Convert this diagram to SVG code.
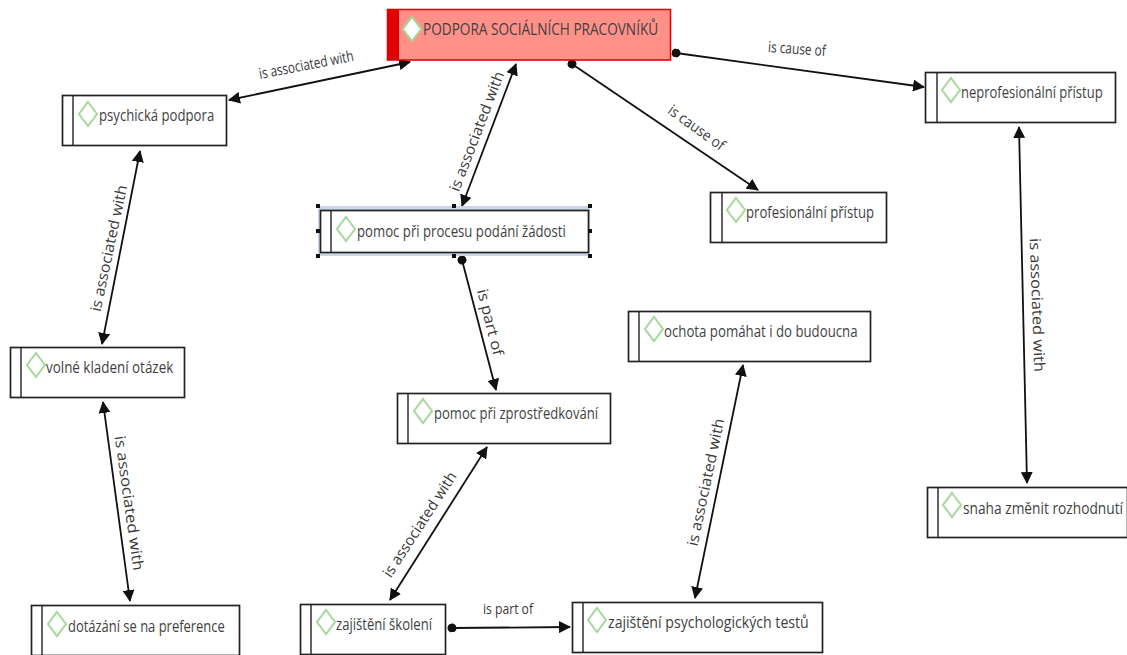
<svg xmlns="http://www.w3.org/2000/svg" width="1127" height="655" viewBox="0 0 1127 655">
<style>
.box{fill:#fff;stroke:#222;stroke-width:1.7}
.bar{stroke:#222;stroke-width:1.4}
.dia{fill:#fff;stroke:#a5d89a;stroke-width:2}
.t{font-family:"Open Sans","Liberation Sans",sans-serif;font-size:17px;fill:#3f3f3f;dominant-baseline:central}
.l{font-family:"Open Sans","Liberation Sans",sans-serif;font-size:15px;fill:#3a3a3a;text-anchor:middle;dominant-baseline:central}
.c{fill:none;stroke:#111;stroke-width:1.8}
.h{fill:#111}
</style>
<defs>
<marker id="a" viewBox="0 0 12 12" refX="11" refY="6" markerWidth="12" markerHeight="12" markerUnits="userSpaceOnUse" orient="auto-start-reverse"><path class="h" d="M0 0L12 6L0 12z"/></marker>
<marker id="d" viewBox="0 0 10 10" refX="5" refY="5" markerWidth="9" markerHeight="9" markerUnits="userSpaceOnUse" orient="auto"><circle class="h" cx="5" cy="5" r="5"/></marker>
<path id="dm" d="M0 -12L9 0L0 12L-9 0z"/>
</defs>
<g id="connectors">
<line class="c" x1="229" y1="100" x2="410" y2="62" marker-start="url(#a)" marker-end="url(#a)"/>
<line class="c" x1="516" y1="64" x2="462" y2="206" marker-start="url(#a)" marker-end="url(#a)"/>
<line class="c" x1="572" y1="64" x2="758" y2="190" marker-start="url(#d)" marker-end="url(#a)"/>
<line class="c" x1="676" y1="53" x2="924" y2="87" marker-start="url(#d)" marker-end="url(#a)"/>
<line class="c" x1="140" y1="151" x2="102" y2="344" marker-start="url(#a)" marker-end="url(#a)"/>
<line class="c" x1="103" y1="402" x2="130" y2="601" marker-start="url(#a)" marker-end="url(#a)"/>
<line class="c" x1="462" y1="260" x2="496" y2="390" marker-start="url(#d)" marker-end="url(#a)"/>
<line class="c" x1="487" y1="447" x2="390" y2="600" marker-start="url(#a)" marker-end="url(#a)"/>
<line class="c" x1="452" y1="628" x2="570" y2="627" marker-start="url(#d)" marker-end="url(#a)"/>
<line class="c" x1="743" y1="365" x2="695" y2="598" marker-start="url(#a)" marker-end="url(#a)"/>
<line class="c" x1="1019" y1="127" x2="1027" y2="483" marker-start="url(#a)" marker-end="url(#a)"/>
<text class="l" transform="translate(306 64) rotate(-11)" textLength="96" lengthAdjust="spacingAndGlyphs">is associated with</text>
<text class="l" transform="translate(476 131) rotate(-69)" textLength="127" lengthAdjust="spacingAndGlyphs">is associated with</text>
<text class="l" transform="translate(697 127) rotate(36)" textLength="66" lengthAdjust="spacingAndGlyphs">is cause of</text>
<text class="l" transform="translate(797 48) rotate(4)" textLength="58" lengthAdjust="spacingAndGlyphs">is cause of</text>
<text class="l" transform="translate(108 248) rotate(-78)" textLength="129" lengthAdjust="spacingAndGlyphs">is associated with</text>
<text class="l" transform="translate(130 503) rotate(82)" textLength="136" lengthAdjust="spacingAndGlyphs">is associated with</text>
<text class="l" transform="translate(491 322) rotate(76)" textLength="68" lengthAdjust="spacingAndGlyphs">is part of</text>
<text class="l" transform="translate(419 524) rotate(-57)" textLength="122" lengthAdjust="spacingAndGlyphs">is associated with</text>
<text class="l" transform="translate(508 608)" textLength="50" lengthAdjust="spacingAndGlyphs">is part of</text>
<text class="l" transform="translate(705 482) rotate(-78)" textLength="130" lengthAdjust="spacingAndGlyphs">is associated with</text>
<text class="l" transform="translate(1038 305) rotate(88)" textLength="134" lengthAdjust="spacingAndGlyphs">is associated with</text>
</g>
<g id="n-main">
<rect x="387.500" y="9.500" width="283" height="50.500" fill="#ff9189" stroke="#e3000f" stroke-width="1.600"/>
<rect x="387" y="9" width="12" height="51" fill="#e00000"/>
<use href="#dm" class="dia" x="412" y="29"/>
<text class="t" transform="translate(423 29) scale(.8 1)" textLength="294" lengthAdjust="spacingAndGlyphs">PODPORA SOCIÁLNÍCH PRACOVNÍKŮ</text>
</g>
<g id="n-psychicka">
<rect class="box" x="62.500" y="95.500" width="164" height="50"/><line class="bar" x1="73" y1="95" x2="73" y2="145"/>
<use href="#dm" class="dia" x="88" y="114"/>
<text class="t" transform="translate(99 115) scale(.8 1)" textLength="144" lengthAdjust="spacingAndGlyphs">psychická podpora</text>
</g>
<g id="n-volne">
<rect class="box" x="10.500" y="347.500" width="174" height="50"/><line class="bar" x1="21" y1="347" x2="21" y2="397"/>
<use href="#dm" class="dia" x="36" y="365"/>
<text class="t" transform="translate(46 367) scale(.8 1)" textLength="159" lengthAdjust="spacingAndGlyphs">volné kladení otázek</text>
</g>
<g id="n-dotazani">
<rect class="box" x="31.500" y="605.500" width="208" height="50"/><line class="bar" x1="42" y1="605" x2="42" y2="655"/>
<use href="#dm" class="dia" x="57" y="624"/>
<text class="t" transform="translate(68 626) scale(.8 1)" textLength="196" lengthAdjust="spacingAndGlyphs">dotázání se na preference</text>
</g>
<g id="n-pomoc-procesu">
<rect x="318" y="206" width="272" height="50" fill="#c9d7e8"/>
<rect class="box" x="320.500" y="210.500" width="268" height="42"/><line class="bar" x1="331" y1="210" x2="331" y2="252"/>
<g fill="#111"><rect x="316" y="204" width="4" height="4"/><rect x="452" y="204" width="4" height="4"/><rect x="588" y="204" width="4" height="4"/><rect x="316" y="229" width="4" height="4"/><rect x="588" y="229" width="4" height="4"/><rect x="316" y="254" width="4" height="4"/><rect x="452" y="254" width="4" height="4"/><rect x="588" y="254" width="4" height="4"/></g>
<use href="#dm" class="dia" x="346" y="229"/>
<text class="t" transform="translate(357 231) scale(.8 1)" textLength="261" lengthAdjust="spacingAndGlyphs">pomoc při procesu podání žádosti</text>
</g>
<g id="n-profesionalni">
<rect class="box" x="710.500" y="192.500" width="176" height="50"/><line class="bar" x1="722" y1="192" x2="722" y2="242"/>
<use href="#dm" class="dia" x="736" y="210"/>
<text class="t" transform="translate(746 212) scale(.8 1)" textLength="160" lengthAdjust="spacingAndGlyphs">profesionální přístup</text>
</g>
<g id="n-neprofesionalni">
<rect class="box" x="925.500" y="72.500" width="190" height="50"/><line class="bar" x1="937" y1="72" x2="937" y2="122"/>
<use href="#dm" class="dia" x="951" y="90"/>
<text class="t" transform="translate(961 92) scale(.8 1)" textLength="177" lengthAdjust="spacingAndGlyphs">neprofesionální přístup</text>
</g>
<g id="n-snaha">
<rect class="box" x="927.500" y="487.500" width="200" height="50"/><line class="bar" x1="938" y1="487" x2="938" y2="537"/>
<use href="#dm" class="dia" x="952" y="505"/>
<text class="t" transform="translate(963 508) scale(.8 1)" textLength="200" lengthAdjust="spacingAndGlyphs">snaha změnit rozhodnutí</text>
</g>
<g id="n-ochota">
<rect class="box" x="628.500" y="311.500" width="242" height="50"/><line class="bar" x1="639" y1="311" x2="639" y2="361"/>
<use href="#dm" class="dia" x="654" y="329"/>
<text class="t" transform="translate(664 331) scale(.8 1)" textLength="242" lengthAdjust="spacingAndGlyphs">ochota pomáhat i do budoucna</text>
</g>
<g id="n-zprostredkovani">
<rect class="box" x="397.500" y="393.500" width="213" height="50"/><line class="bar" x1="408" y1="393" x2="408" y2="443"/>
<use href="#dm" class="dia" x="423" y="411"/>
<text class="t" transform="translate(434 413) scale(.8 1)" textLength="205" lengthAdjust="spacingAndGlyphs">pomoc při zprostředkování</text>
</g>
<g id="n-skoleni">
<rect class="box" x="300.500" y="604.500" width="145" height="50"/><line class="bar" x1="311" y1="604" x2="311" y2="654"/>
<use href="#dm" class="dia" x="326" y="622"/>
<text class="t" transform="translate(336 624) scale(.8 1)" textLength="120" lengthAdjust="spacingAndGlyphs">zajištění školení</text>
</g>
<g id="n-testy">
<rect class="box" x="572.500" y="602.500" width="250" height="50"/><line class="bar" x1="583" y1="602" x2="583" y2="652"/>
<use href="#dm" class="dia" x="597" y="620"/>
<text class="t" transform="translate(608 622) scale(.8 1)" textLength="251" lengthAdjust="spacingAndGlyphs">zajištění psychologických testů</text>
</g>
</svg>
